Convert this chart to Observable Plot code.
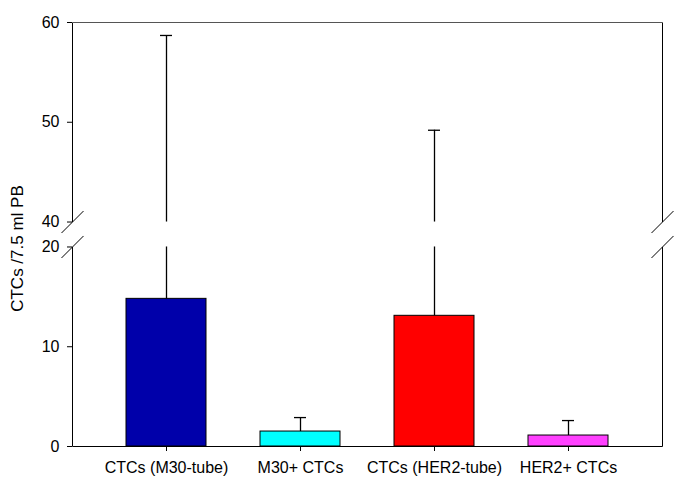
<!DOCTYPE html>
<html>
<head>
<meta charset="utf-8">
<script src="https://cdn.jsdelivr.net/npm/d3@7"></script>
<script src="https://cdn.jsdelivr.net/npm/@observablehq/plot@0.6"></script>
<style>
  html, body { margin: 0; padding: 0; background: white; }
</style>
</head>
<body>
<div id="chart"></div>
<script>
const categories = ["CTCs (M30-tube)", "M30+ CTCs", "CTCs (HER2-tube)", "HER2+ CTCs"];
const means = [14.8, 1.5, 13.1, 1.1];
const upperErrors = [58.7, 2.9, 49.2, 2.6];
const colors = ["#0000aa", "#00ffff", "#ff0000", "#ff40ff"];
const yTicks = [0, 10, 20, 40, 50, 60];
const breakLow = 20;
const breakHigh = 40;
const yMax = 60;
const gapUnits = 2.5; // visual height of the axis break, in lower-axis units
const yTitle = "CTCs /7.5 ml PB";

// broken-axis transform: values above the break are shifted down
const cut = v => (v <= breakLow ? v : v - (breakHigh - breakLow) + gapUnits);

const data = categories.map((c, i) => ({cat: c, mean: means[i], upper: upperErrors[i], color: colors[i]}));

function axisFrame(index, scales, values, dimensions) {
  const {width, marginLeft, marginRight} = dimensions;
  const y = v => scales.y(cut(v));
  const xl = marginLeft + 0.5, xr = width - marginRight + 0.5;
  const g = d3.create("svg:g").attr("fill", "none").attr("stroke", "black").attr("stroke-width", 1);
  const segs = [[0, breakLow], [breakHigh, yMax]];
  for (const x of [xl, xr]) {
    for (const [a, b] of segs) {
      g.append("line").attr("x1", x).attr("x2", x).attr("y1", y(a) + 0.5).attr("y2", y(b) + 0.5);
    }
    for (const v of [breakLow, breakHigh]) {
      g.append("line").attr("x1", x - 11).attr("y1", y(v) + 11.5).attr("x2", x + 11).attr("y2", y(v) - 10.5);
    }
  }
  g.append("line").attr("x1", xl).attr("x2", xr).attr("y1", y(0) + 0.5).attr("y2", y(0) + 0.5);
  g.append("line").attr("x1", xl).attr("x2", xr).attr("y1", y(yMax) + 0.5).attr("y2", y(yMax) + 0.5).attr("stroke", "#555");
  return g.node();
}

const chart = Plot.plot({
  width: 695,
  height: 497,
  marginLeft: 72,
  marginRight: 33,
  marginTop: 22,
  marginBottom: 51,
  style: "font-family: 'Liberation Sans', Arial, sans-serif; font-size: 16px; background: white; color: black;",
  x: {domain: categories, padding: 0.4, label: null},
  y: {domain: [0, cut(yMax)], label: null},
  color: {type: "identity"},
  marks: [
    Plot.rectY(data, {x: "cat", y1: 0, y2: d => cut(d.mean), fill: "color", stroke: "black", strokeWidth: 1}),
    Plot.ruleX(data, {x: "cat", y1: d => cut(d.mean), y2: d => cut(Math.min(d.upper, breakLow)), stroke: "black", strokeWidth: 1.3}),
    Plot.ruleX(data.filter(d => d.upper > breakHigh), {x: "cat", y1: cut(breakHigh), y2: d => cut(d.upper), stroke: "black", strokeWidth: 1.3}),
    Plot.tickY(data, {x: "cat", y: d => cut(d.upper), insetLeft: 34, insetRight: 34, stroke: "black", strokeWidth: 1.3}),
    Plot.axisY({ticks: yTicks.map(cut), tickFormat: (t, i) => String(yTicks[i]), tickSize: 5, tickPadding: 8, label: null, fontSize: 16}),
    Plot.axisX({tickSize: 5, tickPadding: 10, label: null, fontSize: 16}),
    Plot.text([yTitle], {frameAnchor: "left", textAnchor: "middle", rotate: -90, dx: -55, dy: 14, fontSize: 17}),
    axisFrame
  ]
});
document.getElementById("chart").appendChild(chart);
</script>
</body>
</html>
